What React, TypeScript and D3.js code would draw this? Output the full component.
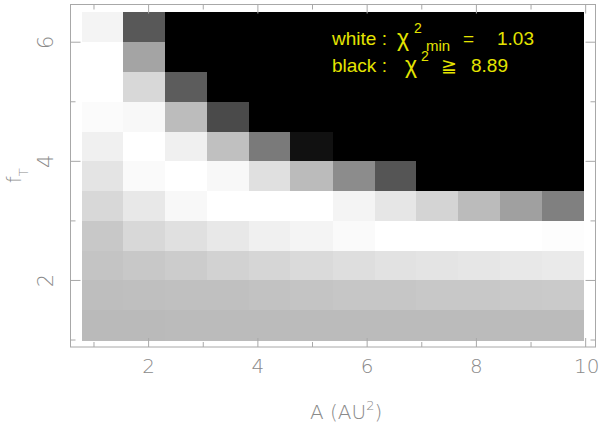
import React from "react";
import * as d3 from "d3";

// Column centres (A, AU^2) and row centres (f_T)
const aCenters = [1.16, 1.92, 2.69, 3.45, 4.22, 4.98, 5.75, 6.52, 7.28, 8.05, 8.81, 9.58];
const aWidth = 0.766;
const fCenters = [6.25, 5.75, 5.25, 4.75, 4.25, 3.75, 3.25, 2.75, 2.25, 1.75, 1.25];
const fHeight = 0.5;

// chi^2 values per row (top row first); values >= 8.89 are black
const chi2Rows = [
  [1.37, 6.18, 12, 12, 12, 12, 12, 12, 12, 12, 12, 12],
  [1.03, 3.83, 12, 12, 12, 12, 12, 12, 12, 12, 12, 12],
  [1.03, 2.23, 6.05, 12, 12, 12, 12, 12, 12, 12, 12, 12],
  [1.15, 1.25, 3.10, 6.61, 12, 12, 12, 12, 12, 12, 12, 12],
  [1.49, 1.03, 1.49, 2.97, 5.13, 8.37, 12, 12, 12, 12, 12, 12],
  [1.86, 1.18, 1.03, 1.25, 1.99, 3.13, 4.57, 6.27, 12, 12, 12, 12],
  [2.23, 1.74, 1.25, 1.03, 1.03, 1.03, 1.37, 1.80, 2.36, 3.13, 3.96, 4.94],
  [2.73, 2.23, 1.99, 1.74, 1.49, 1.37, 1.18, 1.03, 1.03, 1.03, 1.03, 1.09],
  [2.85, 2.73, 2.60, 2.42, 2.29, 2.17, 2.05, 1.92, 1.86, 1.80, 1.74, 1.68],
  [3.03, 3.00, 2.97, 2.97, 2.91, 2.85, 2.79, 2.79, 2.73, 2.71, 2.69, 2.66],
  [3.16, 3.16, 3.13, 3.13, 3.13, 3.13, 3.13, 3.13, 3.13, 3.13, 3.13, 3.13],
];

const chi2Min = 1.03;
const chi2Max = 8.89;

const xMajor = [2, 4, 6, 8, 10];
const xMinor = [1, 3, 5, 7, 9];
const yMajor = [2, 4, 6];
const yMinor = [1, 3, 5];

const W = 600;
const H = 429;
const left = 70.5, right = 595.5, top = 4.5, bottom = 347;

export default function App() {
  const x = d3.scaleLinear().domain([0.57, 10.18]).range([left, right]);
  const y = d3.scaleLinear().domain([0.883, 6.633]).range([bottom, top]);
  const color = d3
    .scaleLinear<string>()
    .domain([chi2Min, chi2Max])
    .range(["#ffffff", "#000000"])
    .clamp(true);

  const cells: JSX.Element[] = [];
  fCenters.forEach((f, ri) => {
    aCenters.forEach((a, ci) => {
      const x0 = x(a - aWidth / 2);
      const x1 = x(a + aWidth / 2);
      const y0 = y(f + fHeight / 2);
      const y1 = y(f - fHeight / 2);
      cells.push(
        <rect
          key={`${ri}-${ci}`}
          x={x0}
          y={y0}
          width={x1 - x0 + 0.5}
          height={y1 - y0 + 0.5}
          fill={color(chi2Rows[ri][ci])}
        />
      );
    });
  });

  const axisColor = "#a8a8a8";
  const labelColor = "#8a8a8a";
  const tickFont = "'DejaVu Sans', 'Liberation Sans', sans-serif";
  const yellow = "#e4e400";

  const ticks: JSX.Element[] = [];
  const addX = (v: number, len: number, k: string) => {
    ticks.push(<line key={"xb" + k} x1={x(v)} x2={x(v)} y1={bottom} y2={bottom - len} />);
    ticks.push(<line key={"xt" + k} x1={x(v)} x2={x(v)} y1={top} y2={top + len} />);
  };
  const addY = (v: number, len: number, k: string) => {
    ticks.push(<line key={"yl" + k} x1={left} x2={left + len} y1={y(v)} y2={y(v)} />);
    ticks.push(<line key={"yr" + k} x1={right} x2={right - len} y1={y(v)} y2={y(v)} />);
  };
  xMajor.forEach((v) => addX(v, 9, "M" + v));
  xMinor.forEach((v) => addX(v, 5, "m" + v));
  yMajor.forEach((v) => addY(v, 10, "M" + v));
  yMinor.forEach((v) => addY(v, 5, "m" + v));

  return (
    <div style={{ position: "fixed", left: 0, top: 0, width: W, height: H, background: "#fff" }}>
      <svg width={W} height={H} style={{ display: "block" }}>
        <rect x={0} y={0} width={W} height={H} fill="#ffffff" />
        <g shapeRendering="crispEdges">{cells}</g>
        <rect
          x={left}
          y={top}
          width={right - left}
          height={bottom - top}
          fill="none"
          stroke={axisColor}
          strokeWidth={1}
        />
        <g stroke={axisColor} strokeWidth={1}>{ticks}</g>

        {xMajor.map((v) => (
          <text
            key={"xl" + v}
            x={x(v) + (v === 10 ? 1 : 0)}
            y={373}
            textAnchor="middle"
            fontFamily={tickFont}
            fontWeight={200}
            fontSize={20}
            fill={labelColor}
          >
            {v}
          </text>
        ))}
        {yMajor.map((v) => (
          <text
            key={"yl" + v}
            transform={`translate(53,${y(v)}) rotate(-90)`}
            textAnchor="middle"
            fontFamily={tickFont}
            fontWeight={200}
            fontSize={21}
            fill={labelColor}
          >
            {v}
          </text>
        ))}

        <text
          x={310}
          y={419}
          fontFamily={tickFont}
          fontWeight={200}
          fontSize={20}
          fill={labelColor}
        >
          A (AU
          <tspan fontSize={13} dy={-9}>2</tspan>
          <tspan dy={9}>)</tspan>
        </text>
        <text
          transform={`translate(21,183) rotate(-90)`}
          fontFamily={tickFont}
          fontWeight={200}
          fontSize={19}
          fill={labelColor}
        >
          f
          <tspan fontSize={13} dy={7}>T</tspan>
        </text>

        <g fontFamily="'Liberation Sans', Arial, sans-serif" fontSize={19} fill={yellow}>
          <text x={332} y={45}>white :</text>
          <text x={397} y={46} fontSize={23}>
            χ
            <tspan x={414} y={33} fontSize={14}>2</tspan>
            <tspan x={426} y={51} fontSize={15}>min</tspan>
          </text>
          <text x={463} y={45}>=</text>
          <text x={497} y={45}>1.03</text>
          <text x={332} y={72}>black :</text>
          <text x={405} y={73} fontSize={23}>
            χ
            <tspan x={421} y={61} fontSize={14}>2</tspan>
          </text>
          <text x={441} y={72}>≧</text>
          <text x={471} y={72}>8.89</text>
        </g>
      </svg>
    </div>
  );
}
